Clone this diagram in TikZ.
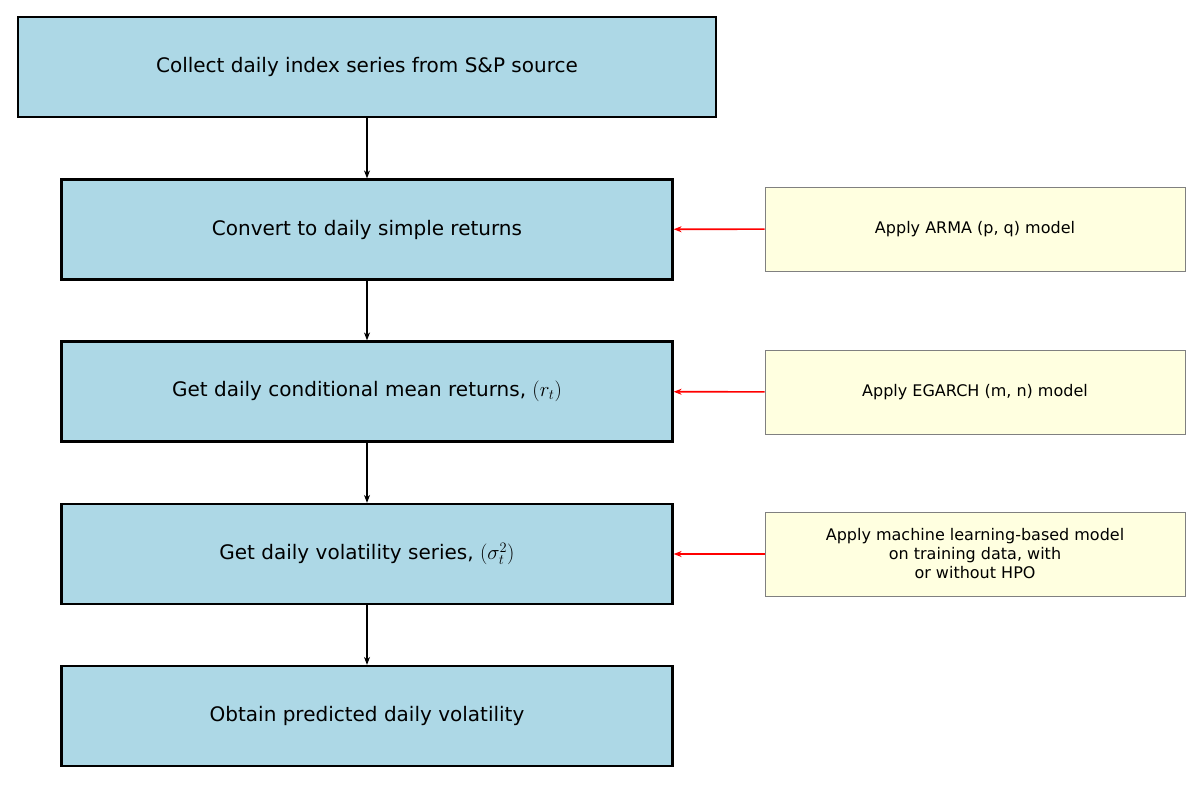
\documentclass[tikz,border=0pt]{standalone}
\usepackage{fontspec}
\setmainfont{DejaVu Sans}
\usetikzlibrary{arrows.meta}
\definecolor{lb}{RGB}{173,216,230}
\definecolor{ly}{RGB}{255,255,224}
\begin{document}
\begin{tikzpicture}[x=1pt,y=-1pt,
 blue/.style={draw=black,line width=2.2pt,fill=lb,minimum height=100pt,inner sep=0pt,font=\fontsize{20}{24}\selectfont},
 yel/.style={draw=gray,line width=0.8pt,fill=ly,minimum width=420pt,minimum height=84pt,inner sep=0pt,align=center,font=\fontsize{16}{19}\selectfont},
 arr/.style={-{Stealth[length=8pt,width=6pt]},line width=1.8pt},
 rarr/.style={-{Stealth[length=8pt,width=6pt]},line width=1.6pt,red}]
\useasboundingbox (0,0) rectangle (1199,787);
\node[blue,minimum width=698pt] (a) at (367,67) {Collect daily index series from S\&P source};
\node[blue,minimum width=611pt] (b) at (367,229.5) {Convert to daily simple returns};
\node[blue,minimum width=611pt] (c) at (367,391.5) {Get daily conditional mean returns, $(r_t)$};
\node[blue,minimum width=611pt] (d) at (367,554) {Get daily volatility series, $(\sigma_t^2)$};
\node[blue,minimum width=611pt] (e) at (367,716) {Obtain predicted daily volatility};
\node[yel] (y1) at (975,229) {Apply ARMA (p, q) model};
\node[yel] (y2) at (975,392) {Apply EGARCH (m, n) model};
\node[yel] (y3) at (975,554) {Apply machine learning-based model\\on training data, with\\or without HPO};
\draw[arr] (a) -- (b);
\draw[arr] (b) -- (c);
\draw[arr] (c) -- (d);
\draw[arr] (d) -- (e);
\draw[rarr] (y1) -- (b);
\draw[rarr] (y2) -- (c);
\draw[rarr] (y3) -- (d);
\end{tikzpicture}
\end{document}
